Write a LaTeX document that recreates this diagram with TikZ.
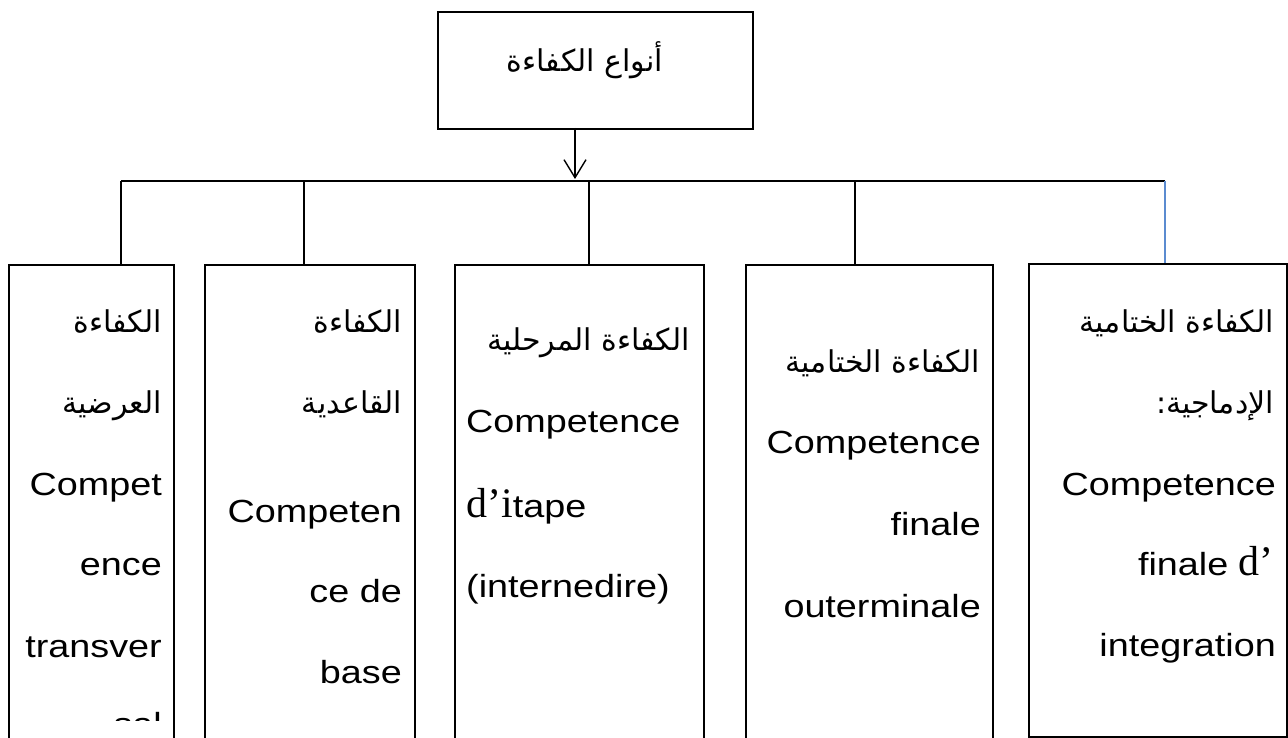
\documentclass[tikz,border=0pt]{standalone}
\usepackage{fontspec}
\usetikzlibrary{arrows.meta}
\TeXXeTstate=1
\newfontfamily\arabicfont[Script=Arabic]{DejaVu Sans}
\newfontfamily\latfont[FakeStretch=1.18]{Liberation Sans}
\newfontfamily\serfont{Liberation Serif}
\definecolor{linkblue}{RGB}{91,139,208}
\tikzset{
  boxnode/.style={draw, line width=2pt, rectangle, inner sep=0pt, anchor=north west},
  conn/.style={line width=1.4pt},
  lat/.style={font=\latfont\fontsize{32}{38}\selectfont, inner sep=0pt},
  ar/.style={font=\arabicfont\fontsize{30}{34}\selectfont, inner sep=0pt},
}
\newcommand{\ser}[1]{{\serfont\fontsize{42}{48}\selectfont #1}}
\begin{document}
\begin{tikzpicture}[x=1pt,y=-1pt]
\useasboundingbox (0,0) rectangle (1288,738);
% boxes
\node[boxnode, minimum width=315pt, minimum height=117pt] (t) at (437,11) {};
\node[boxnode, minimum width=165pt, minimum height=500pt] (b1) at (8,264) {};
\node[boxnode, minimum width=210pt, minimum height=500pt] (b2) at (204,264) {};
\node[boxnode, minimum width=249pt, minimum height=500pt] (b3) at (454,264) {};
\node[boxnode, minimum width=247pt, minimum height=500pt] (b4) at (745,264) {};
\node[boxnode, minimum width=258pt, minimum height=473pt] (b5) at (1028,263) {};
% connectors
\coordinate (a0) at (575,128);
\coordinate (a1) at (575,179);
\coordinate (j1) at (121,181);
\coordinate (j2) at (304,181);
\coordinate (j3) at (589,181);
\coordinate (j4) at (855,181);
\coordinate (j5) at (1165,181);
\draw[conn, -{Straight Barb[length=18pt,width=22pt]}] (a0) -- (a1);
\draw[conn] (j1) -- (j5);
\draw[conn] (j1) -- (j1 |- b1.north);
\draw[conn] (j2) -- (j2 |- b2.north);
\draw[conn] (j3) -- (j3 |- b3.north);
\draw[conn] (j4) -- (j4 |- b4.north);
\draw[conn, linkblue] (j5) -- (j5 |- b5.north);
% title
\node[ar, anchor=base] (tt) at (585,72) {\beginR أنواع الكفاءة\endR};
% box 1
\node[ar, anchor=base east] (b1a) at (162,332) {\beginR الكفاءة\endR};
\node[ar, anchor=base east] (b1b) at (162,413) {\beginR العرضية\endR};
\node[lat, anchor=base east] (b1c) at (162,495) {Compet};
\node[lat, anchor=base east] (b1d) at (162,575) {ence};
\node[lat, anchor=base east] (b1e) at (162,657) {transver};
\begin{scope}
\clip (8,264) rectangle (173,720);
\node[lat, anchor=base east] (b1f) at (162,735) {sal};
\end{scope}
% box 2
\node[ar, anchor=base east] (b2a) at (402,332) {\beginR الكفاءة\endR};
\node[ar, anchor=base east] (b2b) at (402,413) {\beginR القاعدية\endR};
\node[lat, anchor=base east] (b2c) at (402,522) {Competen};
\node[lat, anchor=base east] (b2d) at (402,602) {ce de};
\node[lat, anchor=base east] (b2e) at (402,683) {base};
% box 3
\node[ar, anchor=base east] (b3a) at (690,350) {\beginR الكفاءة المرحلية\endR};
\node[lat, anchor=base west] (b3b) at (466,432) {Competence};
\node[lat, anchor=base west] (b3c) at (466,517) {\ser{d’i}tape};
\node[lat, anchor=base west] (b3d) at (466,597) {(internedire)};
% box 4
\node[ar, anchor=base east] (b4a) at (980,372) {\beginR الكفاءة الختامية\endR};
\node[lat, anchor=base east] (b4b) at (981,453) {Competence};
\node[lat, anchor=base east] (b4c) at (981,535) {finale};
\node[lat, anchor=base east] (b4d) at (981,617) {outerminale};
% box 5
\node[ar, anchor=base east] (b5a) at (1274,332) {\beginR الكفاءة الختامية\endR};
\node[ar, anchor=base east] (b5b) at (1274,413) {\beginR الإدماجية:\endR};
\node[lat, anchor=base east] (b5c) at (1276,495) {Competence};
\node[lat, anchor=base east] (b5d) at (1274,575) {finale \ser{d’}};
\node[lat, anchor=base east] (b5e) at (1276,656) {integration};
\end{tikzpicture}
\end{document}
